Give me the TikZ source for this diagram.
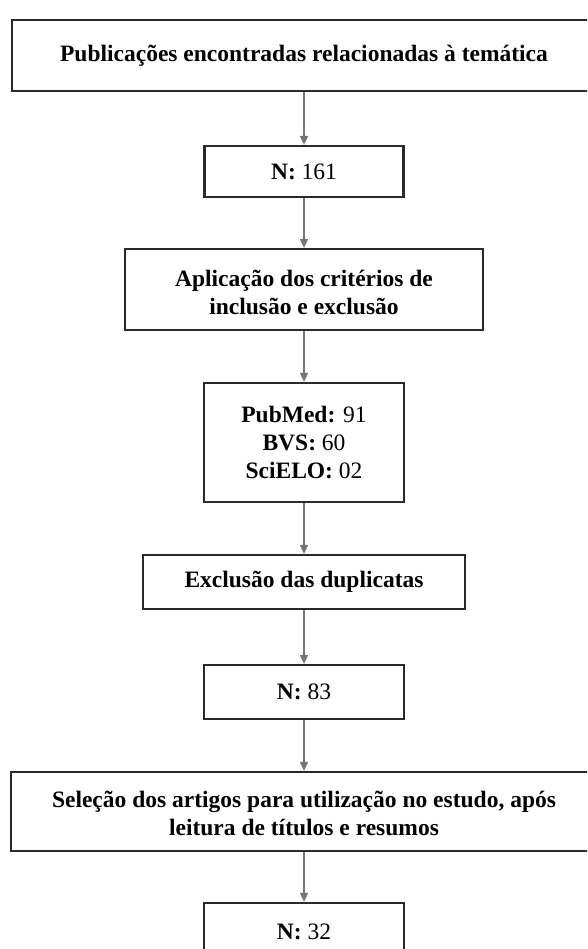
\documentclass[tikz,border=0pt]{standalone}
\usepackage{fontspec}
\setmainfont{Liberation Serif}
\usetikzlibrary{arrows.meta}
\definecolor{boxline}{HTML}{2A2A2A}
\definecolor{arrowgray}{HTML}{757575}
\newcommand{\lowered}[2]{\raisebox{-#1}[\height][\depth]{\begin{tabular}{@{}c@{}}#2\end{tabular}}}
\tikzset{
  flowbox/.style={draw=boxline, line width=2.2pt, fill=white, align=center,
    inner sep=0pt, font=\fontsize{23.5}{28}\selectfont\bfseries},
  flowarrow/.style={draw=arrowgray, line width=1.6pt,
    -{Triangle[length=9pt,width=8pt]}}
}
\begin{document}
\begin{tikzpicture}[x=1pt,y=-1pt]
\useasboundingbox (0,0) rectangle (587,949);
\fill[white] (0,0) rectangle (587,949);
\clip (0,0) rectangle (587,949);

\node[flowbox, minimum width=584pt, minimum height=71pt] (b1) at (304,55.5)
  {Publicações encontradas relacionadas à temática};
\node[flowbox, minimum width=199pt, minimum height=51pt] (b2) at (304,171.5)
  {N: \mdseries 161};
\node[flowbox, minimum width=358pt, minimum height=81pt] (b3) at (304,289.5)
  {\lowered{5pt}{Aplicação dos critérios de\\inclusão e exclusão}};
\node[flowbox, minimum width=200pt, minimum height=119pt] (b4) at (304,442.5)
  {PubMed: {\mdseries 91}\\BVS: {\mdseries 60}\\SciELO: {\mdseries 02}};
\node[flowbox, minimum width=322pt, minimum height=54pt] (b5) at (304,582)
  {Exclusão das duplicatas};
\node[flowbox, minimum width=200pt, minimum height=54pt] (b6) at (304,692)
  {N: \mdseries 83};
\node[flowbox, minimum width=586pt, minimum height=79pt] (b7) at (304,811.5)
  {\lowered{4pt}{Seleção dos artigos para utilização no estudo, após\\leitura de títulos e resumos}};
\node[flowbox, minimum width=200pt, minimum height=58pt] (b8) at (304,932)
  {N: \mdseries 32};

\draw[flowarrow] (b1.south) -- (b2.north);
\draw[flowarrow] (b2.south) -- (b3.north);
\draw[flowarrow] (b3.south) -- (b4.north);
\draw[flowarrow] (b4.south) -- (b5.north);
\draw[flowarrow] (b5.south) -- (b6.north);
\draw[flowarrow] (b6.south) -- (b7.north);
\draw[flowarrow] (b7.south) -- (b8.north);
\end{tikzpicture}
\end{document}
